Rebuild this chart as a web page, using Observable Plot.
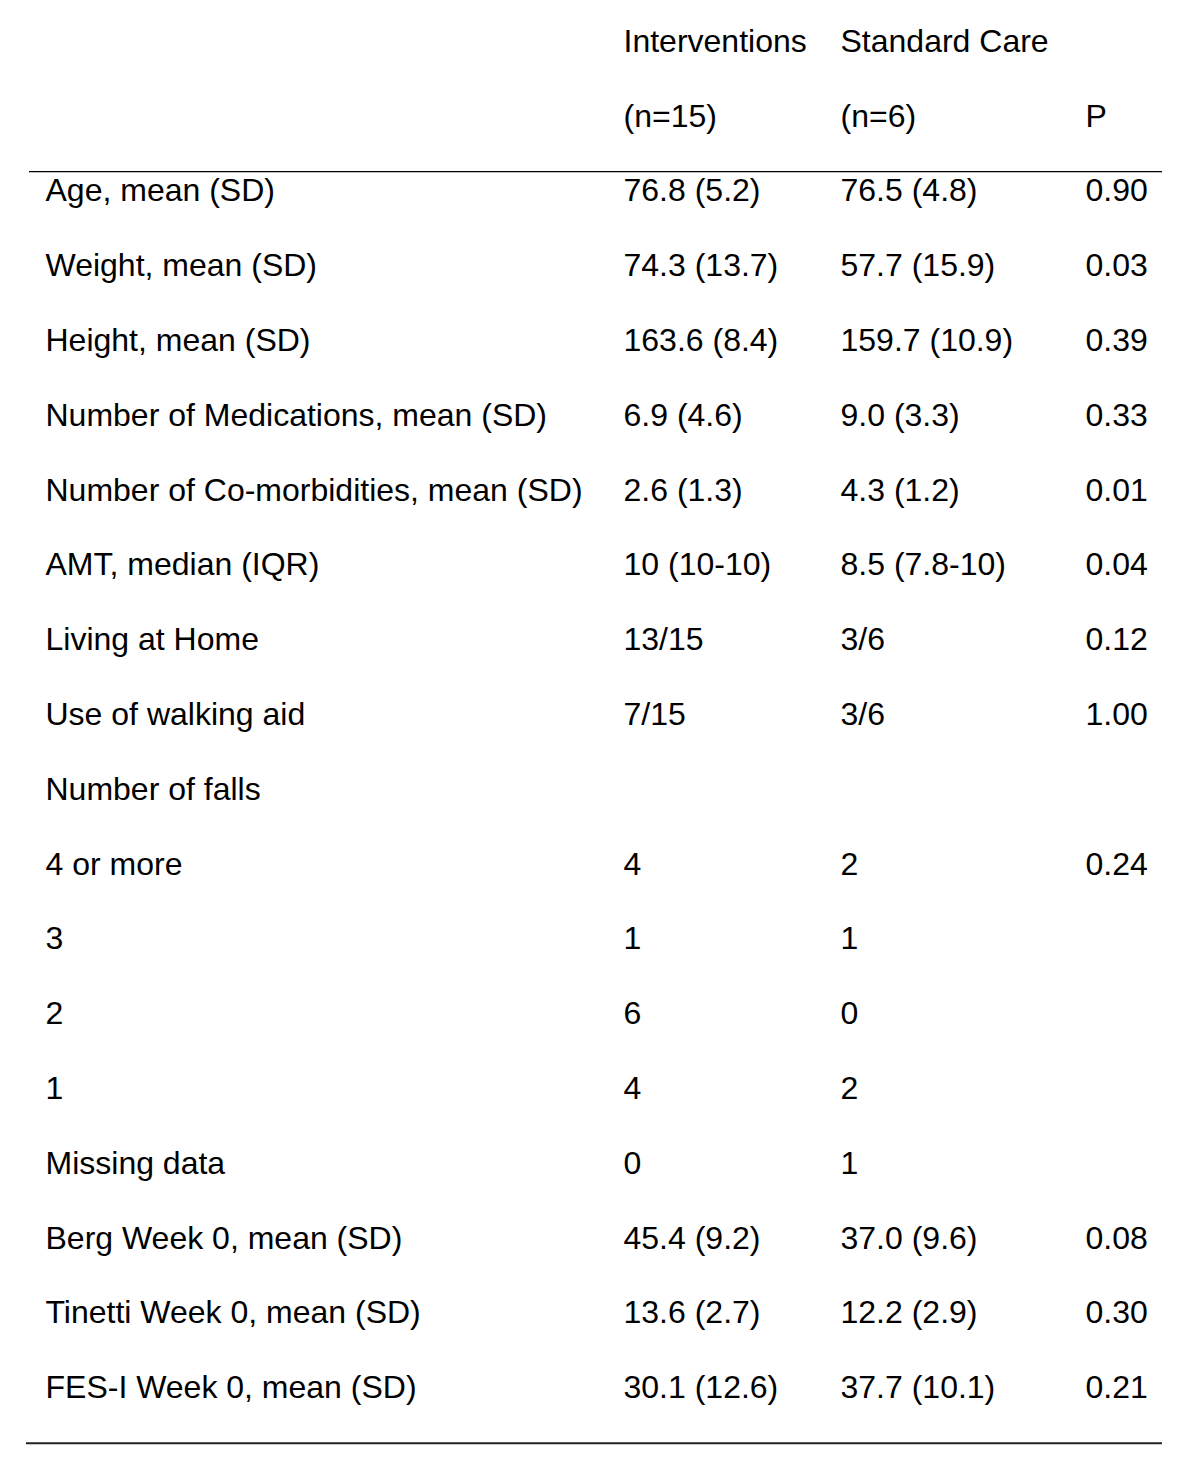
<!DOCTYPE html>
<html>
<head>
<meta charset="utf-8">
<script src="https://cdn.jsdelivr.net/npm/d3@7"></script>
<script src="https://cdn.jsdelivr.net/npm/@observablehq/plot@0.6"></script>
<style>
  html, body { margin: 0; padding: 0; background: #fff; }
  #chart svg { display: block; }
</style>
</head>
<body>
<div id="chart"></div>
<script>
// ---- data ----
const headerLine1 = ["", "Interventions", "Standard Care", ""];
const headerLine2 = ["", "(n=15)", "(n=6)", "P"];

const labels = [
  "Age, mean (SD)",
  "Weight, mean (SD)",
  "Height, mean (SD)",
  "Number of Medications, mean (SD)",
  "Number of Co-morbidities, mean (SD)",
  "AMT, median (IQR)",
  "Living at Home",
  "Use of walking aid",
  "Number of falls",
  "4 or more",
  "3",
  "2",
  "1",
  "Missing data",
  "Berg Week 0, mean (SD)",
  "Tinetti Week 0, mean (SD)",
  "FES-I Week 0, mean (SD)"
];
const interventions = [
  "76.8 (5.2)", "74.3 (13.7)", "163.6 (8.4)", "6.9 (4.6)", "2.6 (1.3)",
  "10 (10-10)", "13/15", "7/15", "", "4", "1", "6", "4", "0",
  "45.4 (9.2)", "13.6 (2.7)", "30.1 (12.6)"
];
const standardCare = [
  "76.5 (4.8)", "57.7 (15.9)", "159.7 (10.9)", "9.0 (3.3)", "4.3 (1.2)",
  "8.5 (7.8-10)", "3/6", "3/6", "", "2", "1", "0", "2", "1",
  "37.0 (9.6)", "12.2 (2.9)", "37.7 (10.1)"
];
const pValues = [
  "0.90", "0.03", "0.39", "0.33", "0.01", "0.04", "0.12", "1.00", "",
  "0.24", "", "", "", "", "0.08", "0.30", "0.21"
];

// ---- layout (not data) ----
const colX = [45, 623, 840, 1085];       // left edge of each column (px)
const topRuleRow = 1.74;                  // in row units
const bottomRuleRow = 18.74;
const ruleX1 = [29, 26], ruleX2 = 1162;

// build cell table
const cells = [];
[headerLine1, headerLine2].forEach((line, r) =>
  line.forEach((t, c) => { if (t) cells.push({row: r, col: c, text: t}); }));
labels.forEach((lab, i) => {
  const r = i + 2;
  [lab, interventions[i], standardCare[i], pValues[i]].forEach((t, c) => {
    if (t) cells.push({row: r, col: c, text: t});
  });
});

const nRows = 19;
const chart = Plot.plot({
  width: 1200,
  height: 1476,
  margin: 0,
  x: {domain: [0, 1200], range: [0, 1200], axis: null},
  y: {domain: [0, nRows - 1], range: [41, 41 + 74.8 * (nRows - 1)], axis: null},
  style: {fontFamily: "'Liberation Sans', Arial, Helvetica, sans-serif", background: "#fff"},
  marks: [
    Plot.text(cells, {
      x: d => colX[d.col],
      y: "row",
      text: "text",
      textAnchor: "start",
      fontSize: 32,
      fill: "#000"
    }),
    Plot.ruleY([topRuleRow], {x1: ruleX1[0], x2: ruleX2, stroke: "#000", strokeWidth: 1.2}),
    Plot.ruleY([bottomRuleRow], {x1: ruleX1[1], x2: ruleX2, stroke: "#222", strokeWidth: 2})
  ]
});
document.getElementById("chart").appendChild(chart);
</script>
</body>
</html>
